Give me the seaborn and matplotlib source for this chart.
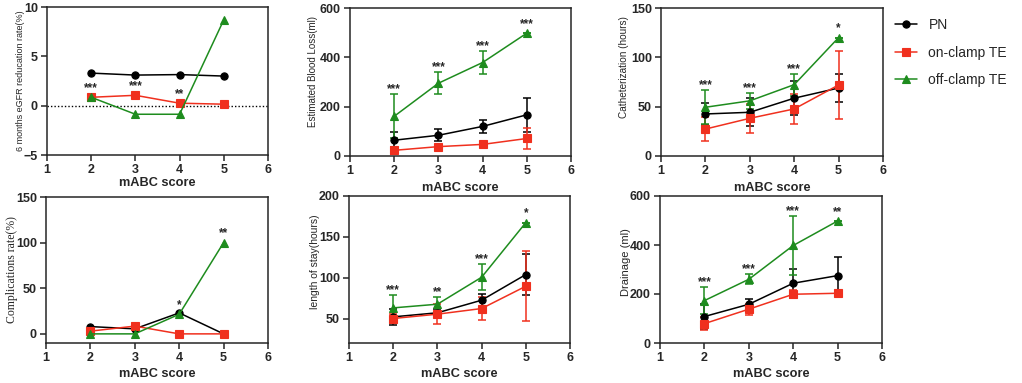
# %%
import matplotlib
matplotlib.use("Agg")
import matplotlib.pyplot as plt
import numpy as np
import pandas as pd
import seaborn as sns

# %%
scores = [2, 3, 4, 5]
groups = ["PN", "on-clamp TE", "off-clamp TE"]

egfr_pn = [3.3, 3.1, 3.15, 3.0]
egfr_on = [0.85, 1.05, 0.25, 0.15]
egfr_off = [0.85, -0.87, -0.87, 8.7]
egfr_stars = ["***", "***", "**", ""]

ebl_pn = [64, 84, 120, 167]
ebl_pn_err = [32, 24, 26, 68]
ebl_on = [23, 38, 47, 71]
ebl_on_err = [13, 5, 6, 43]
ebl_off = [161, 295, 379, 498]
ebl_off_err = [90, 45, 47, 0]
ebl_stars = ["***", "***", "***", "***"]

cath_pn = [42.6, 44.3, 58.6, 68.9]
cath_pn_err = [11, 14, 17, 14]
cath_on = [27.3, 38.2, 47.7, 72]
cath_on_err = [12, 15, 15, 34]
cath_off = [49.4, 55.9, 72.3, 120]
cath_off_err = [17, 8, 11, 0]
cath_stars = ["***", "***", "***", "*"]

comp_pn = [8, 5.5, 23, 0]
comp_on = [3, 8.5, 0, 0]
comp_off = [0, 0, 21.5, 100]
comp_stars = ["", "", "*", "**"]

los_pn = [52, 57, 72.4, 103.8]
los_pn_err = [10, 5, 8, 25]
los_on = [50, 55.3, 62.2, 89.5]
los_on_err = [5, 12, 14, 43]
los_off = [63, 67.5, 100.5, 167.4]
los_off_err = [16, 9, 16, 0]
los_stars = ["***", "**", "***", "*"]

drain_pn = [108, 158, 244, 275]
drain_pn_err = [50, 22, 59, 75]
drain_on = [79, 138, 199, 203]
drain_on_err = [27, 22, 17, 8]
drain_off = [173, 260, 398, 498]
drain_off_err = [54, 21, 120, 0]
drain_stars = ["***", "***", "***", "**"]

# %%
sns.set_style("ticks")
plt.rcParams["font.family"] = ["Liberation Sans", "DejaVu Sans"]
plt.rcParams["axes.linewidth"] = 1.1

colors = {"PN": "black", "on-clamp TE": "#f0301e", "off-clamp TE": "#1e8c1e"}
markers = {"PN": "o", "on-clamp TE": "s", "off-clamp TE": "^"}
zero = [0, 0, 0, 0]

# ylx: label centre in px left of the axis, yly: label centre as axes fraction
panels = [
    dict(rect=[47, 7, 268, 155], vals=(egfr_pn, egfr_on, egfr_off), errs=(zero, zero, zero),
         ylabel="6 months eGFR reducation rate(%)", ylim=(-5, 10), yticks=[-5, 0, 5, 10],
         stars=egfr_stars, yfont=dict(size=6.5), ylx=26, yly=0.5, xly=28, zero_line=True),
    dict(rect=[350, 8, 571, 156], vals=(ebl_pn, ebl_on, ebl_off), errs=(ebl_pn_err, ebl_on_err, ebl_off_err),
         ylabel="Estimated Blood Loss(ml)", ylim=(0, 600), yticks=[0, 200, 400, 600],
         stars=ebl_stars, yfont=dict(size=7), ylx=37, yly=0.57, xly=32),
    dict(rect=[661, 8, 883, 156], vals=(cath_pn, cath_on, cath_off), errs=(cath_pn_err, cath_on_err, cath_off_err),
         ylabel="Catheterization (hours)", ylim=(0, 150), yticks=[0, 50, 100, 150],
         stars=cath_stars, yfont=dict(size=7.2), ylx=37, yly=0.6, xly=32),
    dict(rect=[46, 197, 268, 343], vals=(comp_pn, comp_on, comp_off), errs=(zero, zero, zero),
         ylabel="Complications rate(%)", ylim=(-10, 150), yticks=[0, 50, 100, 150],
         stars=comp_stars, yfont=dict(size=8.5, family=["Liberation Serif"]), ylx=34, yly=0.5, xly=31),
    dict(rect=[349, 196, 570, 343], vals=(los_pn, los_on, los_off), errs=(los_pn_err, los_on_err, los_off_err),
         ylabel="length of stay(hours)", ylim=(20, 200), yticks=[50, 100, 150, 200],
         stars=los_stars, yfont=dict(size=7.5), ylx=34, yly=0.55, xly=31),
    dict(rect=[660, 196, 882, 343], vals=(drain_pn, drain_on, drain_off), errs=(drain_pn_err, drain_on_err, drain_off_err),
         ylabel="Drainage (ml)", ylim=(0, 600), yticks=[0, 200, 400, 600],
         stars=drain_stars, yfont=dict(size=8), ylx=34, yly=0.55, xly=31),
]

W, H = 1022, 383
fig = plt.figure(figsize=(W / 100, H / 100), dpi=100)

handles = None
for p in panels:
    x0, y0, x1, y1 = p["rect"]
    ax = fig.add_axes([x0 / W, 1 - y1 / H, (x1 - x0) / W, (y1 - y0) / H])
    if p.get("zero_line"):
        ax.axhline(0, color="black", ls=(0, (1, 1.5)), lw=1.0, zorder=1)
    for g, v, e in zip(groups, p["vals"], p["errs"]):
        c = colors[g]
        if any(e):
            ax.errorbar(scores, v, yerr=e, fmt="none", ecolor=c, elinewidth=1.1,
                        capsize=3.2, capthick=1.1, zorder=2)
        sns.lineplot(x=scores, y=v, ax=ax, color=c, marker=markers[g], markersize=5.2,
                     markeredgecolor=c, markeredgewidth=0.8, linewidth=1.1, label=g, zorder=3)
    # significance marks above the TE groups
    for i, s in enumerate(p["stars"]):
        if not s:
            continue
        tops = [p["vals"][k][i] + p["errs"][k][i] for k in (1, 2)]
        k = int(np.argmax(tops))
        off = 1.5 if p["errs"][k + 1][i] > 0 else 4.5
        ax.annotate(s, (scores[i], max(tops)), xytext=(0, off), textcoords="offset points",
                    ha="center", va="baseline", fontsize=8.5, fontweight="bold")
    if handles is None:
        handles, labels = ax.get_legend_handles_labels()
    ax.get_legend().remove()
    ax.set_xlim(1, 6)
    ax.set_xticks([1, 2, 3, 4, 5, 6])
    ax.set_ylim(*p["ylim"])
    ax.set_yticks(p["yticks"])
    for sp in ax.spines.values():
        sp.set_visible(True)
        sp.set_linewidth(1.1)
    ax.tick_params(direction="out", length=4.5, width=1.1, labelsize=9, pad=2)
    for t in ax.get_xticklabels() + ax.get_yticklabels():
        t.set_fontweight("bold")
    ax.set_xlabel("mABC score", fontsize=9.2, fontweight="bold")
    ax.set_ylabel(p["ylabel"], **p["yfont"])
    aw, ah = x1 - x0, y1 - y0
    ax.yaxis.set_label_coords(-p["ylx"] / aw, p["yly"])
    ax.yaxis.label.set_va("center")
    ax.xaxis.set_label_coords(0.5, -p["xly"] / ah)
    ax.xaxis.label.set_va("center")

fig.legend(handles, labels, loc="upper left", bbox_to_anchor=(0.865, 0.982), frameon=False,
           fontsize=10, handlelength=1.6, handletextpad=0.8, labelspacing=0.98, borderpad=0.3)

fig.savefig("out.png", dpi=100)
